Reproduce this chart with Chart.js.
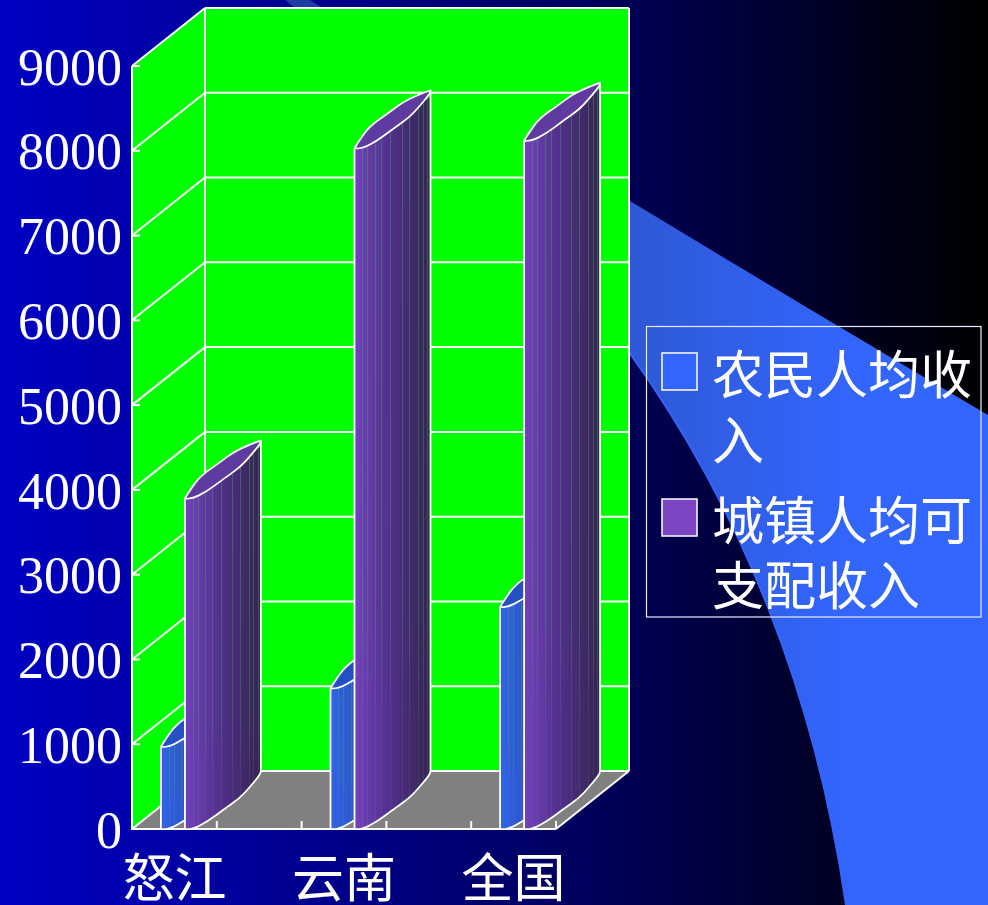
<!DOCTYPE html>
<html><head><meta charset="utf-8">
<style>html,body{margin:0;padding:0;background:#000;overflow:hidden}canvas{display:block}</style>
<script src="https://cdn.jsdelivr.net/npm/chart.js@4"></script></head>
<body><canvas id="c" width="988" height="905"></canvas>
<script>
const categories = ['怒江', '', '云南', '', '全国'];
const farmerIncome = [970, null, 1660, null, 2620];
const urbanIncome = [3900, null, 8030, null, 8120];
const seriesNames = ['农民人均收入', '城镇人均可支配收入'];
const legendLines = [['农民人均收', '入'], ['城镇人均可', '支配收入']];
const yMax = 9000, yStep = 1000;

const WHITE = '#ffffff', GREEN = '#00ff00', GREY = '#808080';
const DX = 73, DY = -58;
const SERIF = '"Liberation Serif","Noto Sans CJK SC",serif';
const CJK = '"Noto Sans CJK SC",sans-serif';
const BAR_SHIFT = 10.5, BAR_DEPTH = 76;
const LOWER = [[0,0],[6,1],[22,-7],[38,-19],[55,-31],[65,-42],[75,-54],[76,-58]];
const UPPER = [[76,-58],[65,-54],[48,-46],[35,-36],[15,-22],[5,-8],[0,0]];
const STRIPES = [.1,.17,.27,.35,.47,.62,.72,.84,.9,.96];
const STYLES = [
  {a:'#3164e6', m:'#2850b8', b:'#1f3f98', top:'#2450c4'},
  {a:'#7242bc', m:'#4f2f88', b:'#33264f', top:'#5f3a9f'}
];

function backdrop(ctx, w, h){
  const g = ctx.createLinearGradient(0,0,w,0);
  g.addColorStop(0,'#0000c4'); g.addColorStop(.62,'#000058'); g.addColorStop(1,'#000000');
  ctx.fillStyle = g; ctx.fillRect(0,0,w,h);
  const s = ctx.createLinearGradient(280,0,860,0);
  s.addColorStop(0,'#1d3aa0'); s.addColorStop(.6,'#2e58d4'); s.addColorStop(1,'#3366ff');
  ctx.fillStyle = s;
  ctx.beginPath();
  ctx.moveTo(310,0); ctx.lineTo(630,201); ctx.quadraticCurveTo(810,310,988,415);
  ctx.lineTo(988,905); ctx.lineTo(846,905);
  ctx.quadraticCurveTo(800,590,629,352);
  ctx.quadraticCurveTo(450,130,285,0);
  ctx.closePath(); ctx.fill();
  ctx.strokeStyle = '#3366ff'; ctx.lineWidth = 2;
  ctx.beginPath(); ctx.moveTo(846,905); ctx.quadraticCurveTo(800,590,629,352); ctx.stroke();
}

function line(ctx, x1,y1,x2,y2){ ctx.beginPath(); ctx.moveTo(x1,y1); ctx.lineTo(x2,y2); ctx.stroke(); }

function drawBox(chart){
  const {ctx, scales:{x:xs, y:ys}} = chart;
  const L = xs.left, R = xs.right, B = ys.getPixelForValue(0), T = ys.getPixelForValue(yMax);
  ctx.save();
  ctx.fillStyle = GREEN;
  ctx.fillRect(L+DX, T+DY, R-L, B-T);
  ctx.beginPath(); ctx.moveTo(L,B); ctx.lineTo(L+DX,B+DY); ctx.lineTo(L+DX,T+DY); ctx.lineTo(L,T); ctx.closePath(); ctx.fill();
  ctx.fillStyle = GREY;
  ctx.beginPath(); ctx.moveTo(L,B); ctx.lineTo(R,B); ctx.lineTo(R+DX,B+DY); ctx.lineTo(L+DX,B+DY); ctx.closePath(); ctx.fill();
  ctx.strokeStyle = WHITE; ctx.lineWidth = 2;
  for(let v=0; v<=yMax; v+=yStep){
    const y = ys.getPixelForValue(v);
    line(ctx, L,y, L+DX,y+DY);
    line(ctx, L+DX,y+DY, R+DX,y+DY);
    line(ctx, L,y, L+8,y);
  }
  line(ctx, L+DX,T+DY, L+DX,B+DY);
  line(ctx, R+DX,T+DY, R+DX,B+DY);
  line(ctx, L,T, L,B+1);
  line(ctx, L-1,B, R,B);
  line(ctx, R,B, R+DX,B+DY);
  const step = (R-L)/categories.length;
  for(let i=1;i<=categories.length;i++) line(ctx, L+step*i,B, L+step*i,B-8);
  ctx.restore();
}

function smooth(ctx, pts, ox, oy){
  for(let i=1;i<pts.length-1;i++){
    const mx=(pts[i][0]+pts[i+1][0])/2, my=(pts[i][1]+pts[i+1][1])/2;
    ctx.quadraticCurveTo(ox+pts[i][0],oy+pts[i][1],ox+mx,oy+my);
  }
  const e=pts[pts.length-1]; ctx.lineTo(ox+e[0],oy+e[1]);
}

function drawBar(ctx, el, st){
  const x0 = el.x - el.width/2 + BAR_SHIFT, yTop = el.y, yBase = el.base;
  ctx.save();
  ctx.lineJoin = 'round';
  const bodyPath = ()=>{
    ctx.beginPath();
    ctx.moveTo(x0,yBase); smooth(ctx,LOWER,x0,yBase);
    ctx.lineTo(x0+BAR_DEPTH, yTop-58);
    ctx.lineTo(x0+BAR_DEPTH, yTop-52);
    ctx.lineTo(x0, yTop+2);
    ctx.closePath();
  };
  const g = ctx.createLinearGradient(x0,0,x0+BAR_DEPTH,0);
  g.addColorStop(0,st.a); g.addColorStop(.5,st.m); g.addColorStop(1,st.b);
  bodyPath(); ctx.fillStyle = g; ctx.fill();
  ctx.save(); bodyPath(); ctx.clip();
  const sg = ctx.createLinearGradient(0,yTop-60,0,yBase);
  sg.addColorStop(0,'rgba(70,170,90,.42)');
  sg.addColorStop(.72,'rgba(70,170,90,.34)');
  sg.addColorStop(.85,'rgba(150,130,190,.14)');
  sg.addColorStop(1,'rgba(150,130,190,.14)');
  ctx.lineWidth = 1; ctx.strokeStyle = sg;
  STRIPES.forEach(f=>{ const x = Math.round(x0+f*BAR_DEPTH)+.5; line(ctx,x,yTop-60,x,yBase); });
  ctx.restore();
  ctx.beginPath(); ctx.moveTo(x0,yTop); smooth(ctx,LOWER,x0,yTop); smooth(ctx,UPPER,x0,yTop); ctx.closePath();
  ctx.fillStyle = st.top; ctx.fill();
  ctx.strokeStyle = WHITE; ctx.lineWidth = 1.8; ctx.stroke();
  ctx.beginPath(); ctx.moveTo(x0,yTop); ctx.lineTo(x0,yBase); ctx.stroke();
  ctx.beginPath(); ctx.moveTo(x0+BAR_DEPTH,yTop-58); ctx.lineTo(x0+BAR_DEPTH,yBase-58); ctx.stroke();
  ctx.beginPath(); ctx.moveTo(x0,yBase); smooth(ctx,LOWER,x0,yBase); ctx.stroke();
  ctx.restore();
}

function drawLegend(ctx){
  ctx.save();
  ctx.strokeStyle = '#e8ecff'; ctx.lineWidth = 1.2;
  ctx.strokeRect(646.5,326.5,334.5,290.5);
  const swatches = [['#3366ff',353,372,438],['#7b45c4',499,518,583]];
  ctx.font = '52px '+CJK; ctx.textBaseline = 'middle'; ctx.textAlign = 'left';
  swatches.forEach((s,i)=>{
    ctx.fillStyle = s[0]; ctx.fillRect(662,s[1],35,37);
    ctx.strokeStyle = WHITE; ctx.lineWidth = 1.5; ctx.strokeRect(662,s[1],35,37);
    ctx.fillStyle = WHITE;
    ctx.fillText(legendLines[i][0],712,s[2]+2);
    ctx.fillText(legendLines[i][1],712,s[3]+2);
  });
  ctx.restore();
}

const box3d = {
  id:'box3d',
  beforeDraw(chart){ backdrop(chart.ctx, chart.width, chart.height); },
  beforeDatasetsDraw(chart){ drawBox(chart); },
  afterDatasetsDraw(chart){
    chart.data.datasets.forEach((d,i)=>{
      const meta = chart.getDatasetMeta(i);
      meta.data.forEach((el,j)=>{ if(d.data[j]!==null) drawBar(chart.ctx, el, STYLES[i]); });
    });
    drawLegend(chart.ctx);
  }
};

new Chart(document.getElementById('c'),{
  type:'bar',
  data:{labels:categories,datasets:[
    {label:seriesNames[0],data:farmerIncome,backgroundColor:'rgba(0,0,0,0)',categoryPercentage:.566,barPercentage:1},
    {label:seriesNames[1],data:urbanIncome,backgroundColor:'rgba(0,0,0,0)',categoryPercentage:.566,barPercentage:1}
  ]},
  plugins:[box3d],
  options:{
    responsive:false,animation:false,devicePixelRatio:1,
    layout:{padding:{left:0,top:66,right:432,bottom:0}},
    plugins:{legend:{display:false},tooltip:{enabled:false},title:{display:false}},
    scales:{
      x:{type:'category',offset:true,
         grid:{display:false},border:{display:false},
         afterFit(s){s.height=76;},
         ticks:{autoSkip:false,maxRotation:0,minRotation:0,color:WHITE,padding:14,font:{family:CJK,size:52,lineHeight:1}}},
      y:{min:0,max:yMax,
         grid:{display:false},border:{display:false},
         afterFit(s){s.width=132;},
         ticks:{stepSize:yStep,color:WHITE,padding:2,labelOffset:5,callback:v=>String(v),font:{family:SERIF,size:52,lineHeight:1}}}
    }
  }
});
</script></body></html>
